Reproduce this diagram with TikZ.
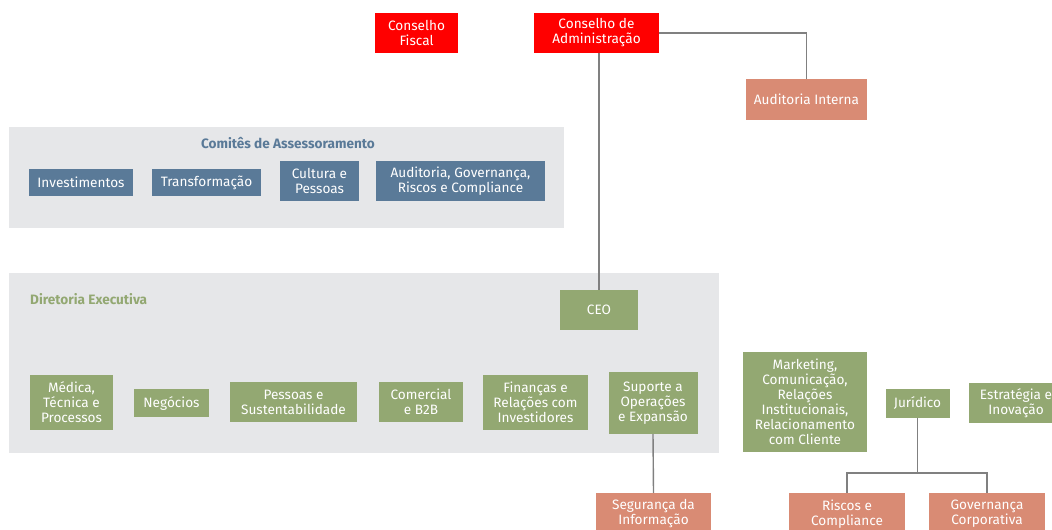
\documentclass[tikz,border=0pt]{standalone}
\usepackage{fontspec}
\setmainfont{Fira Sans}
\usepackage{tikz}

\definecolor{vermelho}{HTML}{FF0000}
\definecolor{salmao}{HTML}{D98B74}
\definecolor{azul}{HTML}{5A7A98}
\definecolor{verde}{HTML}{93A872}
\definecolor{fundo}{HTML}{E6E7E9}
\definecolor{linha}{HTML}{808080}

\begin{document}
\begin{tikzpicture}[x=1pt, y=-1pt,
		box/.style={inner sep=0pt, align=center, text=white, font=\fontsize{13.6}{15}\selectfont},
		conselho/.style={box, fill=vermelho},
		staff/.style={box, fill=salmao},
		comite/.style={box, fill=azul},
		diretor/.style={box, fill=verde},
		liga/.style={draw=linha, line width=1.4pt}]
	\useasboundingbox (0, 0) rectangle (1052, 530);
	\clip (0, 0) rectangle (1052, 530);

	% blocos de fundo
	\fill[fundo] (9, 127) rectangle (564, 228);
	\fill[fundo] (9, 273) rectangle (719, 453);
	\draw (288, 143) 	node[font=\fontsize{13.6}{15}\selectfont\bfseries, text=azul] 	(comites) 	{Comitês de Assessoramento};
	\draw (30, 299) 	node[anchor=west, inner sep=0pt, font=\fontsize{13.6}{15}\selectfont\bfseries, text=verde] 	(diretoria) 	{Diretoria Executiva};

	% conselhos
	\draw (416.5, 33) 	node[conselho, minimum width=83pt, minimum height=40pt] 	(fiscal) 		{Conselho\\Fiscal};
	\draw (596.5, 33) 	node[conselho, minimum width=125pt, minimum height=40pt] 	(admin) 		{Conselho de\\Administração};
	\draw (806.5, 99.5) 	node[staff, minimum width=121pt, minimum height=41pt] 	(audint) 		{Auditoria Interna};

	% comites
	\draw (81, 182.5) 	node[comite, minimum width=104pt, minimum height=27pt] 	(invest) 		{Investimentos};
	\draw (206.5, 182.5) 	node[comite, minimum width=109pt, minimum height=27pt] 	(transf) 		{Transformação};
	\draw (319.5, 181) 	node[comite, minimum width=79pt, minimum height=40pt] 	(cultura) 		{Cultura e\\Pessoas};
	\draw (460.5, 181) 	node[comite, minimum width=169pt, minimum height=40pt] 	(audgov) 		{Auditoria, Governança,\\Riscos e Compliance};

	% diretoria
	\draw (599, 310) 	node[diretor, minimum width=78pt, minimum height=40pt] 	(ceo) 		{CEO};
	\draw (71.5, 402.5) 	node[diretor, minimum width=83pt, minimum height=55pt] 	(medica) 		{Médica,\\Técnica e\\Processos};
	\draw (171.5, 403) 	node[diretor, minimum width=75pt, minimum height=28pt] 	(negocios) 	{Negócios};
	\draw (293.5, 402) 	node[diretor, minimum width=127pt, minimum height=40pt] 	(pessoas) 		{Pessoas e\\Sustentabilidade};
	\draw (421, 402) 	node[diretor, minimum width=84pt, minimum height=40pt] 	(comercial) 	{Comercial\\e B2B};
	\draw (535.5, 402.5) 	node[diretor, minimum width=105pt, minimum height=55pt] 	(financas) 	{Finanças e\\Relações com\\Investidores};
	\draw (653, 403) 	node[diretor, minimum width=89pt, minimum height=62pt] 	(suporte) 		{Suporte a\\Operações\\e Expansão};
	\draw (805, 402) 	node[diretor, minimum width=124pt, minimum height=100pt] 	(marketing) 	{Marketing,\\Comunicação,\\Relações\\Institucionais,\\Relacionamento\\com Cliente};
	\draw (917.5, 403) 	node[diretor, minimum width=64pt, minimum height=29pt] 	(juridico) 	{Jurídico};
	\draw (1016, 403) 	node[diretor, minimum width=94pt, minimum height=40pt] 	(estrategia) 	{Estratégia e\\Inovação};

	% areas de apoio
	\draw (653.5, 514) 	node[staff, minimum width=115pt, minimum height=42pt] 	(seguranca) 	{Segurança da\\Informação};
	\draw (847, 514) 	node[staff, minimum width=116pt, minimum height=42pt] 	(riscos) 		{Riscos e\\Compliance};
	\draw (987, 514) 	node[staff, minimum width=116pt, minimum height=42pt] 	(governanca) 	{Governança\\Corporativa};
	\coordinate (fork) at (917.5, 473);

	\draw[liga] (admin.east) -| (audint.north);
	\draw[liga] (admin.south -| ceo) -- (ceo.north);
	\draw[liga] (suporte.south) -- (seguranca.north);
	\draw[liga] (juridico.south) -- (fork);
	\draw[liga] (riscos.north) -- (riscos.north |- fork) -- (governanca.north |- fork) -- (governanca.north);
\end{tikzpicture}
\end{document}
